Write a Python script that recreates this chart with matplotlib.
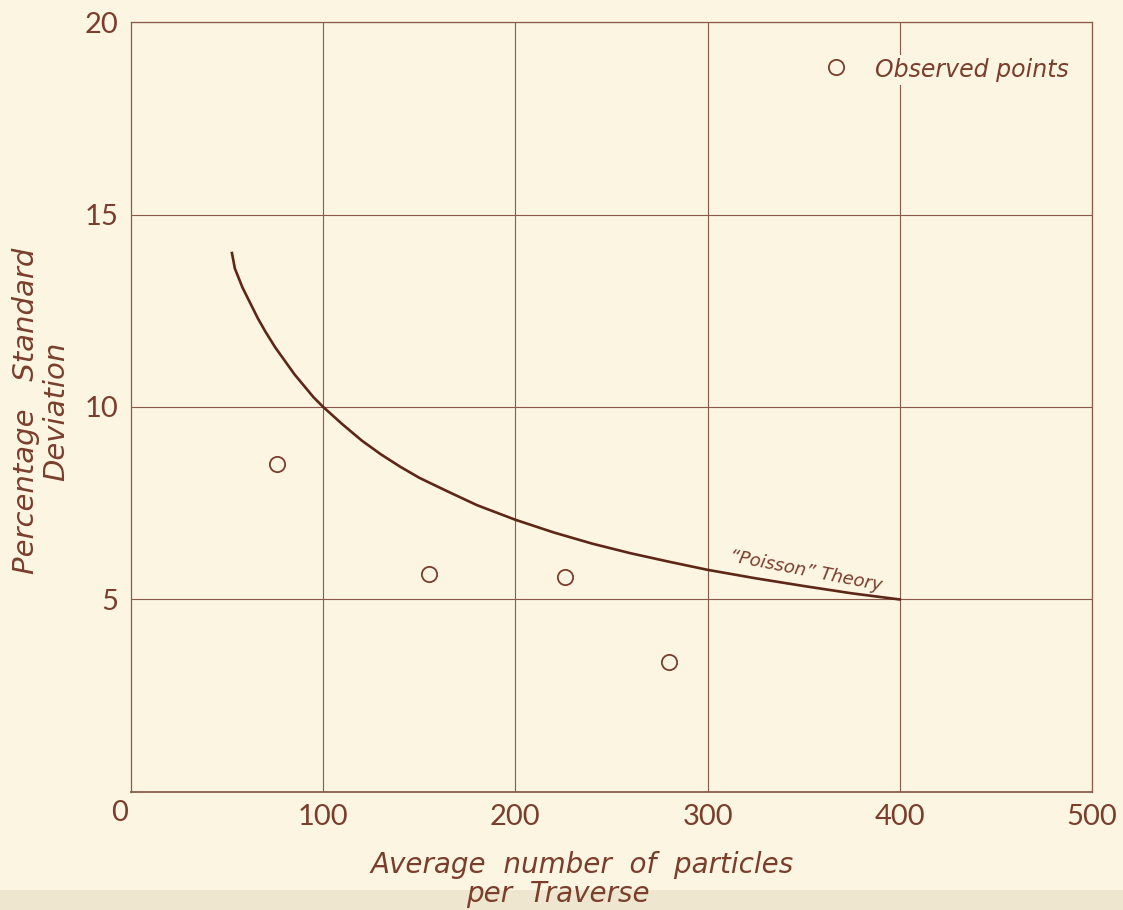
import matplotlib.pyplot as plt
from matplotlib.patches import Rectangle

# lectura de la curva teórica ("Poisson") tomada del dibujo
curva_x = [52.5, 54, 56, 58, 60, 63, 66, 70, 75, 80, 85, 90, 95, 100,
           110, 120, 130, 140, 150, 165, 180, 200, 220, 240, 260, 280,
           300, 325, 350, 375, 400]
curva_y = [14.0, 13.6, 13.35, 13.1, 12.9, 12.6, 12.3, 11.95, 11.55, 11.2,
           10.85, 10.55, 10.25, 10.0, 9.55, 9.13, 8.77, 8.45, 8.16, 7.8,
           7.45, 7.07, 6.74, 6.45, 6.2, 5.98, 5.77, 5.55, 5.35, 5.16, 5.0]

# puntos observados
obs_x = [76, 155, 226, 280]
obs_y = [8.52, 5.66, 5.58, 3.38]

xticks = [100, 200, 300, 400, 500]
yticks = [5, 10, 15, 20]

FONDO = "#fbf5e2"
TINTA = "#7a3e2c"
CURVA = "#5e2616"
REJILLA = "#8c5a4a"
MANO = ["DejaVu Sans"]

plt.rcParams["font.family"] = ["Lato", "DejaVu Sans"]

fig = plt.figure(figsize=(11.23, 9.10), dpi=100, facecolor=FONDO)
# franja inferior más oscura del escaneo
fig.patches.append(Rectangle((0, 0), 1, 0.022, transform=fig.transFigure,
                             facecolor="#efe6cf", edgecolor="none", zorder=-5))

ax = fig.add_axes([0.1167, 0.1297, 0.8557, 0.8461])
ax.set_facecolor(FONDO)
ax.set_xlim(0, 500)
ax.set_ylim(0, 20)

ax.set_xticks(xticks)
ax.set_yticks(yticks)
ax.tick_params(length=0, labelsize=21, labelcolor=TINTA, pad=9)
ax.grid(True, color=REJILLA, lw=0.8)
for s in ax.spines.values():
    s.set_color(REJILLA)
    s.set_linewidth(0.9)
ax.spines["bottom"].set_linewidth(1.3)

# "0" en la esquina
ax.text(-1.5, -0.2, "0", ha="right", va="top", fontsize=21, color=TINTA)

ax.plot(curva_x, curva_y, color=CURVA, lw=1.9, zorder=3)
ax.plot(obs_x, obs_y, ls="none", marker="o", ms=11, mfc="none",
        mec=TINTA, mew=1.3, zorder=4)

ax.text(351, 5.74, "\u201cPoisson\u201d Theory", rotation=-11, fontsize=13,
        style="italic", family=MANO, color=TINTA, ha="center", va="center")

# leyenda
ax.plot([367], [18.83], ls="none", marker="o", ms=11, mfc="none",
        mec=TINTA, mew=1.3, zorder=4)
ax.text(387, 18.75, "Observed points", fontsize=17, style="italic",
        family=MANO, color=TINTA, va="center", ha="left",
        bbox=dict(facecolor=FONDO, edgecolor="none", pad=2))

fig.text(0.518, 1 - 873 / 910, "Average  number  of  particles",
         fontsize=20, style="italic", family=MANO, color=TINTA,
         ha="center", va="baseline")
fig.text(0.497, 1 - 902 / 910, "per  Traverse",
         fontsize=20, style="italic", family=MANO, color=TINTA,
         ha="center", va="baseline")
fig.text(0.037, 1 - 411 / 910, "Percentage   Standard\nDeviation", fontsize=21,
         style="italic", family=MANO, color=TINTA, rotation=90,
         ha="center", va="center", linespacing=1.1)

fig.savefig("out.png", dpi=100, facecolor=FONDO)
